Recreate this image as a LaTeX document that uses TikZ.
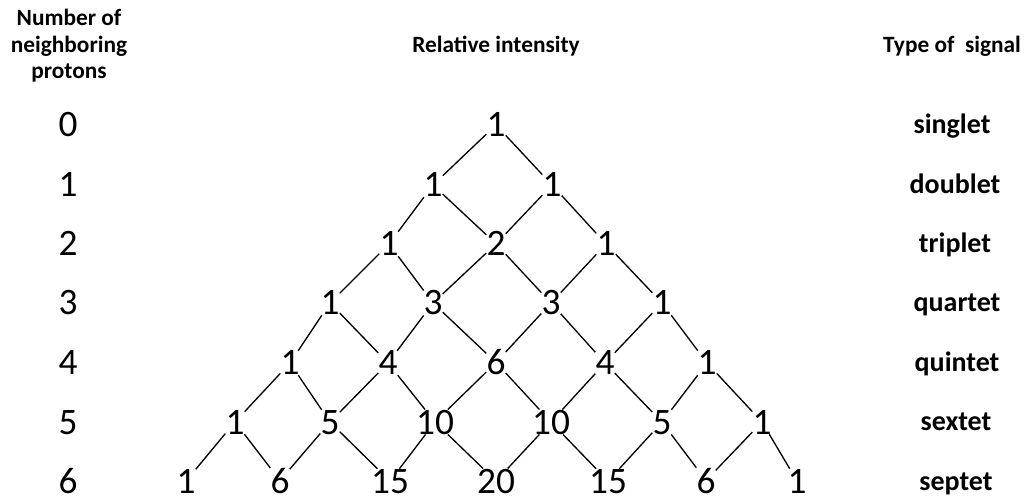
\documentclass[tikz,border=0pt]{standalone}
\usepackage{fontspec}
\setmainfont{Carlito}
\begin{document}
\begin{tikzpicture}[x=0.75pt,y=-0.75pt,
  num/.style={inner sep=0pt, anchor=base, font=\fontsize{28}{30}\selectfont},
  lbl/.style={inner sep=0pt, anchor=base, font=\bfseries\fontsize{21}{24}\selectfont},
  hdr/.style={inner sep=0pt, font=\bfseries\fontsize{17.5}{20}\selectfont, align=center},
  link/.style={line width=1pt, shorten <=0pt, shorten >=0pt}]
\useasboundingbox (0,0) rectangle (1027,498);

% headers
\node[hdr, anchor=north] (hn) at (69,9) {Number of\\neighboring\\protons};
\node[hdr, anchor=base] (hr) at (496,53) {Relative intensity};
\node[hdr, anchor=base] (ht) at (952,53) {Type of\ \ signal};

% left column
\node[num] (n0) at (68,137) {0};
\node[num] (n1) at (68,197) {1};
\node[num] (n2) at (68,256) {2};
\node[num] (n3) at (68,315) {3};
\node[num] (n4) at (68,375) {4};
\node[num] (n5) at (68,434) {5};
\node[num] (n6) at (68,493) {6};

% right column
\node[lbl] (s0) at (952,134) {singlet};
\node[lbl] (s1) at (955,194) {doublet};
\node[lbl] (s2) at (955,253) {triplet};
\node[lbl] (s3) at (957,312) {quartet};
\node[lbl] (s4) at (957,372) {quintet};
\node[lbl] (s5) at (956,431) {sextet};
\node[lbl] (s6) at (956,490) {septet};

% triangle
\node[num] (t-0-0) at (496,137) {1};

\node[num] (t-1-0) at (433,197) {1};
\node[num] (t-1-1) at (552,197) {1};

\node[num] (t-2-0) at (389,256) {1};
\node[num] (t-2-1) at (496,256) {2};
\node[num] (t-2-2) at (606,256) {1};

\node[num] (t-3-0) at (330,315) {1};
\node[num] (t-3-1) at (433,315) {3};
\node[num] (t-3-2) at (551,315) {3};
\node[num] (t-3-3) at (662,315) {1};

\node[num] (t-4-0) at (290,375) {1};
\node[num] (t-4-1) at (388,375) {4};
\node[num] (t-4-2) at (496,375) {6};
\node[num] (t-4-3) at (605,375) {4};
\node[num] (t-4-4) at (707,375) {1};

\node[num] (t-5-0) at (235,434) {1};
\node[num] (t-5-1) at (330,434) {5};
\node[num] (t-5-2) at (435,434) {10};
\node[num] (t-5-3) at (551,434) {10};
\node[num] (t-5-4) at (662,434) {5};
\node[num] (t-5-5) at (762,434) {1};

\node[num] (t-6-0) at (186,493) {1};
\node[num] (t-6-1) at (280,493) {6};
\node[num] (t-6-2) at (390,493) {15};
\node[num] (t-6-3) at (496,493) {20};
\node[num] (t-6-4) at (608,493) {15};
\node[num] (t-6-5) at (706,493) {6};
\node[num] (t-6-6) at (797,493) {1};

\foreach \r in {0,...,5}{
  \pgfmathtruncatemacro{\nr}{\r+1}
  \foreach \c in {0,...,\r}{
    \pgfmathtruncatemacro{\nc}{\c+1}
    \draw[link] (t-\r-\c) -- (t-\nr-\c);
    \draw[link] (t-\r-\c) -- (t-\nr-\nc);
  }
}
\end{tikzpicture}
\end{document}
